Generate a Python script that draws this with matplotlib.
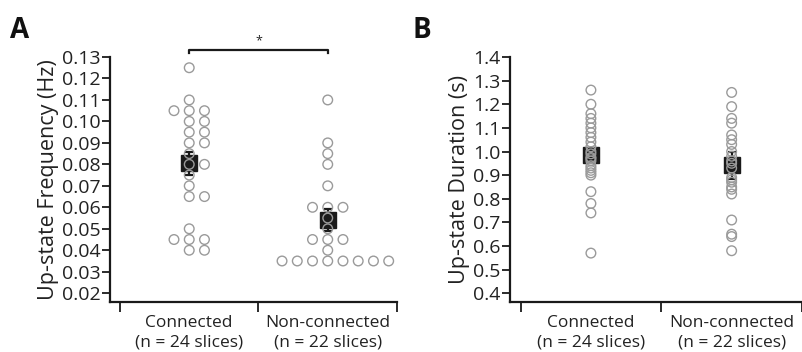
import numpy as np
import matplotlib
matplotlib.use('Agg')
import matplotlib.pyplot as plt

plt.rcParams['font.family'] = ['Open Sans', 'DejaVu Sans']

groups = ['Connected\n(n = 24 slices)', 'Non-connected\n(n = 22 slices)']

# panel A: up-state frequency (Hz), one value per slice
conn_freq = [0.125, 0.11, 0.105, 0.105, 0.105, 0.10, 0.10, 0.095, 0.095, 0.09, 0.09, 0.085,
             0.08, 0.08, 0.075, 0.07, 0.065, 0.065, 0.05, 0.045, 0.045, 0.045, 0.04, 0.04]
nonconn_freq = [0.11, 0.09, 0.085, 0.08, 0.07, 0.06, 0.06, 0.06, 0.055, 0.05, 0.045, 0.045,
                0.045, 0.04, 0.035, 0.035, 0.035, 0.035, 0.035, 0.035, 0.035, 0.035]
freq_mean = [0.0805, 0.054]
freq_sem = [0.0054, 0.005]
freq_ticks = [0.02, 0.03, 0.04, 0.05, 0.06, 0.07, 0.08, 0.09, 0.10, 0.11, 0.12, 0.13]

# panel B: up-state duration (s)
conn_dur = [1.26, 1.20, 1.16, 1.14, 1.12, 1.10, 1.08, 1.06, 1.04, 1.02, 1.00, 0.99,
            0.975, 0.97, 0.96, 0.94, 0.93, 0.92, 0.91, 0.90, 0.83, 0.78, 0.74, 0.57]
nonconn_dur = [1.25, 1.19, 1.14, 1.12, 1.07, 1.05, 1.03, 1.00, 0.98, 0.96, 0.95,
               0.93, 0.89, 0.88, 0.87, 0.85, 0.84, 0.82, 0.71, 0.65, 0.64, 0.58]
dur_mean = [0.985, 0.942]
dur_sem = [0.03, 0.058]
dur_ticks = [0.4, 0.5, 0.6, 0.7, 0.8, 0.9, 1.0, 1.1, 1.2, 1.3, 1.4]

GREY = '#9a9a9a'
FS = 12.5


def swarm_offsets(vals, step):
    # identical values get spread sideways: centre, right, left, right, ...
    order = [0, 1, -1, 2, -2, 3, -3, 4, -4, 5, -5]
    seen = {}
    out = []
    for v in vals:
        k = seen.get(v, 0)
        out.append(order[k] * step)
        seen[v] = k + 1
    return np.array(out)


def style_axis(ax, ylim, yticks, ylabel, fmt):
    ax.set_xlim(*ylim[0])
    ax.set_ylim(*ylim[1])
    for s in ['top', 'right']:
        ax.spines[s].set_visible(False)
    for s in ['left', 'bottom']:
        ax.spines[s].set_linewidth(1.6)
        ax.spines[s].set_color('#1a1a1a')
    ax.set_yticks(yticks)
    ax.set_yticklabels([fmt % t for t in yticks], fontsize=14, color='#222222')
    ax.tick_params(axis='y', length=6, width=1.3, pad=1, colors='#1a1a1a', labelcolor='#222222')
    ax.set_xticks([0, 1, 2])
    ax.set_xticklabels([])
    ax.tick_params(axis='x', length=7.5, width=1.3, colors='#1a1a1a')
    for t in ax.xaxis.get_major_ticks():
        t.tick1line.set_clip_on(False)
    ax.set_ylabel(ylabel, fontsize=15.5, color='#222222', labelpad=2)
    for i, g in enumerate(groups):
        ax.text(i + 0.5, -0.055, g, transform=ax.get_xaxis_transform(), ha='center', va='top',
                fontsize=FS, color='#222222', linespacing=1.25)


def draw_group(ax, x, vals, mean, sem, offsets):
    ax.errorbar([x], [mean], yerr=[sem], fmt='none', ecolor='#1a1a1a', elinewidth=1.6,
                capsize=3, capthick=1.6, zorder=2)
    ax.plot([x], [mean], marker='s', ms=11, color='#1a1a1a', zorder=2)
    ax.scatter(x + offsets, vals, s=48, facecolors='none', edgecolors=GREY, linewidths=1.0, zorder=3,
               clip_on=False)


fig = plt.figure(figsize=(8.02, 3.52), dpi=100)

axA = fig.add_axes([110 / 802, 50 / 352, 287 / 802, 245 / 352])
style_axis(axA, ((-0.072, 2.0), (0.0159, 0.13)), freq_ticks, 'Up-state Frequency (Hz)', '%.2f')
draw_group(axA, 0.5, conn_freq, freq_mean[0], freq_sem[0], swarm_offsets(conn_freq, 0.11))
draw_group(axA, 1.5, nonconn_freq, freq_mean[1], freq_sem[1], swarm_offsets(nonconn_freq, 0.11))

# significance bracket
axA.plot([0.5, 0.5, 1.5, 1.5], [0.1317, 0.1331, 0.1331, 0.1317], color='#1a1a1a', lw=1.6,
         clip_on=False)
axA.text(1.0, 0.1345, '*', ha='center', va='bottom', fontsize=9, color='#222222')

axB = fig.add_axes([510 / 802, 50 / 352, 292 / 802, 245 / 352])
style_axis(axB, ((-0.075, 1.977), (0.363, 1.4)), dur_ticks, 'Up-state Duration (s)', '%.1f')
draw_group(axB, 0.5, conn_dur, dur_mean[0], dur_sem[0], np.zeros(len(conn_dur)))
draw_group(axB, 1.5, nonconn_dur, dur_mean[1], dur_sem[1], np.zeros(len(nonconn_dur)))

fig.text(10 / 802, 1 - 30 / 352, 'A', fontsize=20, fontweight='bold', va='center', color='#111111')
fig.text(413 / 802, 1 - 30 / 352, 'B', fontsize=20, fontweight='bold', va='center', color='#111111')

fig.savefig('out.png', dpi=100)
